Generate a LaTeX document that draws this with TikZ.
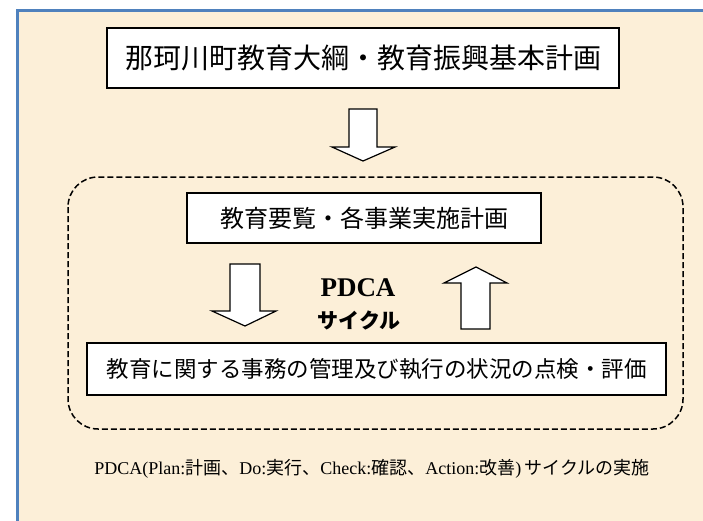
\documentclass[tikz,border=0pt]{standalone}
\usepackage{fontspec}
\setmainfont{Liberation Serif}
\newfontfamily\jp{Noto Sans CJK JP}
\definecolor{bgc}{HTML}{FCEFD8}
\definecolor{framec}{HTML}{4F81BD}
\tikzset{
  boxnode/.style={draw=black, line width=1.3pt, fill=white, inner sep=0pt},
  blockarrow/.style={draw=black, line width=1.2pt, fill=white, line join=miter},
}
\begin{document}
\begin{tikzpicture}[x=1pt,y=-1pt]
\useasboundingbox (0,0) rectangle (703,520);
\begin{scope}
\clip (0,0) rectangle (703,520);
\fill[bgc] (17,10) rectangle (730,540);
\draw[framec, line width=3pt] (730,10) -- (17,10) -- (17,540);
\end{scope}
% top box
\node[boxnode, minimum width=512pt, minimum height=60pt, font=\jp\fontsize{28}{30}\selectfont] (top) at (363,58) {那珂川町教育大綱・教育振興基本計画};
% arrow 1
\draw[blockarrow] (349,109) -- (377,109) -- (377,147) -- (395,147) -- (363,161) -- (332,147) -- (349,147) -- cycle;
% dashed region
\draw[line width=1.5pt, dash pattern=on 6pt off 3pt, rounded corners=30pt] (68,177) rectangle (683,429);
% box 2
\node[boxnode, minimum width=354pt, minimum height=50pt, font=\jp\fontsize{24}{26}\selectfont] (plan) at (364,218) {教育要覧・各事業実施計画};
% box 3
\node[boxnode, minimum width=579pt, minimum height=52pt, font=\jp\fontsize{22.5}{24}\selectfont] (check) at (376.5,369) {教育に関する事務の管理及び執行の状況の点検・評価};
% arrows
\draw[blockarrow] (230,264) -- (260,264) -- (260,311) -- (276,311) -- (245,326) -- (212,311) -- (230,311) -- cycle;
\draw[blockarrow] (461,329) -- (490,329) -- (490,283) -- (507,283) -- (476,267) -- (444,283) -- (461,283) -- cycle;
% labels
\node[font=\bfseries\fontsize{27}{29}\selectfont, inner sep=0pt] (pdca) at (358,288) {PDCA};
\node[font=\jp\bfseries\fontsize{21}{23}\selectfont, inner sep=0pt] (cycle) at (359,320) {サイクル};
% bottom text
\node[font=\fontsize{18}{20}\selectfont, inner sep=0pt] (note) at (372,469) {PDCA(Plan:{\jp 計画、}Do:{\jp 実行、}Check:{\jp 確認、}Action:{\jp 改善})\,{\jp サイクルの実施}};
\end{tikzpicture}
\end{document}
